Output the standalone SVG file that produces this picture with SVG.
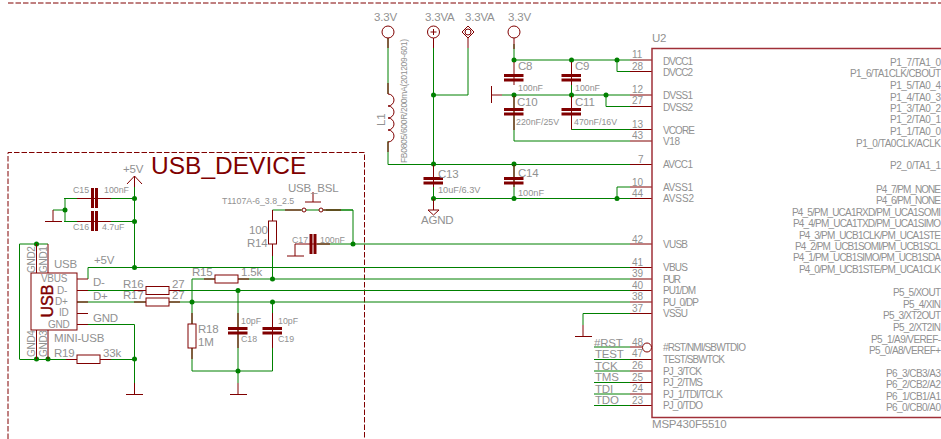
<svg xmlns="http://www.w3.org/2000/svg" width="941" height="439" viewBox="0 0 941 439">
<style>
text{font-family:"Liberation Sans",Arial,sans-serif;fill:#919191}
.s8{font-size:8.5px}.s9{font-size:8.800px}.s10{font-size:9.200px}.s12{font-size:11.500px;letter-spacing:-.2px}
.n{font-size:10px}
.p{font-size:10px;letter-spacing:-.3px}
.q{font-size:10px}
.r{text-anchor:end}
.w{fill:none;stroke:#008000;stroke-width:1}
.e{fill:none;stroke:#800000;stroke-width:1}
.b{fill:#fff;stroke:#800000;stroke-width:1}
.pl{fill:#800000}
.j{fill:#008000}
.fr{fill:none;stroke:#800000;stroke-width:1;stroke-dasharray:5.500 2}
</style>
<defs>
<g id="ch"><rect x="-10" y="-4" width="19.500" height="3" class="pl"/><rect x="-10" y=".5" width="19.500" height="3" class="pl"/></g>
<g id="cv"><rect x="-3.500" y="-10" width="3" height="20" class="pl"/><rect x=".5" y="-10" width="3" height="20" class="pl"/></g>
</defs>
<g id="frame">
<path class="fr" d="M8 439V152.500H364.500V439"/>
<path class="fr" d="M8 3H941"/>
<text x="151" y="174" style="font-size:24.500px;fill:#800000">USB_DEVICE</text>
</g>
<g id="connectors">
<path class="w" d="M134.500 187V267.500M64 198.500H134.500M64 221.500H134.500M65 198.500V221.500M53 210H65"/>
<path class="w" d="M88 267.500H630M88 267.500V279M77 290.500H630M77 302H630M192 279H630M192 279V324M192 348V371H272.500V302M238 290.500V371M238 371V383M77 324.500H134.500V383M20 359.500H134.500M19.500 244H48M19.500 244V359.500"/>
<path class="w" d="M272.500 256V279M285 210H353V244M272.500 210H285M326 210H353M353 244H630M317 244H353"/>
<path class="w" d="M388 38V94M388 141V164.500H630M433.500 38V198.500H630M468 48V95H433.500M514 44V60H630M617 60V71.500H630M514 95V141H630M571.500 60V129.500H630M502 95H630M606 95V106.500H630M514 164.500V198.500M617 187H630M617 187V198.500"/>
<path class="w" d="M583 313.500H630M583 313.500V325M594 347H630M594 359.500H630M594 371H630M594 382.500H630M594 394H630M594 405.500H630"/>
<g class="j">
<circle cx="134.500" cy="198.500" r="2.500"/><circle cx="134.500" cy="221.500" r="2.500"/><circle cx="65" cy="210" r="2.500"/><circle cx="134.500" cy="267.500" r="2.500"/>
<circle cx="36.500" cy="244" r="2.500"/><circle cx="36.500" cy="359" r="2.500"/><circle cx="48" cy="359" r="2.500"/><circle cx="134.500" cy="359" r="2.500"/>
<circle cx="272.500" cy="279" r="2.500"/><circle cx="238" cy="290.500" r="2.500"/><circle cx="192" cy="302" r="2.500"/><circle cx="272.500" cy="302" r="2.500"/><circle cx="238" cy="371" r="2.500"/><circle cx="353" cy="244" r="2.500"/>
<circle cx="433.500" cy="95" r="2.500"/><circle cx="433.500" cy="164" r="2.500"/><circle cx="514" cy="164" r="2.500"/><circle cx="433.500" cy="198.500" r="2.500"/><circle cx="514" cy="198.500" r="2.500"/><circle cx="617" cy="198.500" r="2.500"/>
<circle cx="514" cy="60" r="2.500"/><circle cx="571.500" cy="60" r="2.500"/><circle cx="617" cy="60" r="2.500"/><circle cx="514" cy="95" r="2.500"/><circle cx="571.500" cy="95" r="2.500"/><circle cx="606" cy="95" r="2.500"/>
</g>
</g>
<g id="P5V">
<path class="e" d="M127 184L134.500 176L142 184M134.500 176V187"/><text x="123" y="173" class="s12">+5V</text>
</g>
<g id="GND_C15"><path class="e" d="M53 210V221.500M45 221.500H62"/></g>
<g id="C15"><path class="e" d="M77 198.500H111"/><use href="#cv" x="94.500" y="198"/><text x="73" y="193" class="s9">C15</text><text x="104" y="193" class="s9">100nF</text></g>
<g id="C16"><path class="e" d="M77 221.500H111"/><use href="#cv" x="94.500" y="221"/><text x="73" y="230" class="s9">C16</text><text x="102" y="230" class="s9">4.7uF</text></g>
<g id="USB">
<path class="e" d="M36.500 244V273M48 244V273M36.500 330V359M48 330V359M77 279H88M77 290.500H88M77 302H88M77 313.500H88M77 324.500H88"/>
<rect x="31" y="273" width="46" height="57" class="b"/>
<text transform="translate(52.500 317.500) rotate(-90)" style="font-size:17px;fill:#800000;stroke:#800000;stroke-width:.4" textLength="33" lengthAdjust="spacingAndGlyphs">USB</text>
<text x="41" y="282" class="p">VBUS</text><text x="57" y="294" class="p">D-</text><text x="55" y="305" class="p">D+</text><text x="59" y="316" class="p">ID</text><text x="48" y="328" class="p">GND</text>
<text transform="translate(35 273) rotate(-90)" class="p">GND2</text><text transform="translate(46.500 273) rotate(-90)" class="p">GND1</text><text transform="translate(35 357) rotate(-90)" class="p">GND4</text><text transform="translate(46.500 357) rotate(-90)" class="p">GND3</text>
<text x="54" y="268" class="s12">USB</text><text x="94" y="264" class="s12">+5V</text><text x="93" y="286" class="s12">D-</text><text x="93" y="300" class="s12">D+</text><text x="93" y="322" class="s12">GND</text><text x="54" y="342" class="s12">MINI-USB</text>
</g>
<g id="R19"><path class="e" d="M66 359.500H111"/><rect x="77" y="355" width="23" height="8.500" class="b"/><text x="54" y="357" class="s12">R19</text><text x="103" y="357" class="s12">33k</text></g>
<g id="GND_USB"><path class="e" d="M134.500 383V394M126 394.500H143"/></g>
<g id="R16"><path class="e" d="M134 290.500H180"/><rect x="146" y="286.500" width="23" height="8" class="b"/><text x="123" y="288" class="s12">R16</text><text x="172" y="288" class="s12">27</text></g>
<g id="R17"><path class="e" d="M134 302H180"/><rect x="146" y="298" width="23" height="8" class="b"/><text x="123" y="299" class="s12">R17</text><text x="172" y="299" class="s12">27</text></g>
<g id="R15"><path class="e" d="M204 279H249"/><rect x="215" y="275" width="23" height="8" class="b"/><text x="192" y="276" class="s12">R15</text><text x="241" y="276" class="s12">1.5k</text></g>
<g id="R18"><path class="e" d="M192 313V359"/><rect x="188" y="324" width="8" height="24" class="b"/><text x="198" y="333" class="s12">R18</text><text x="198" y="346" class="s12">1M</text></g>
<g id="C18"><path class="e" d="M238 313V348"/><use href="#ch" x="238" y="331"/><text x="241" y="324" class="s9">10pF</text><text x="241" y="342" class="s9">C18</text></g>
<g id="C19"><path class="e" d="M272.500 313V348"/><use href="#ch" x="272.500" y="331"/><text x="278" y="324" class="s9">10pF</text><text x="278" y="342" class="s9">C19</text></g>
<g id="GND_C18"><path class="e" d="M238 383V394M230 394.500H247"/></g>
<g id="R14"><path class="e" d="M272.500 210V256"/><rect x="268.500" y="221" width="8" height="23" class="b"/><text x="249" y="234" class="s12">100</text><text x="247" y="247" class="s12">R14</text></g>
<g id="C17"><path class="e" d="M295 244H330M295 244V256M287 256H304"/><use href="#cv" x="313" y="244"/><text x="292" y="243" class="s9">C17</text><text x="320" y="243" class="s9">100nF</text></g>
<g id="USB_BSL"><path class="e" d="M285 210H301M323.500 210H341M305 202H321M313 192V202"/><circle cx="304" cy="210" r="2" class="b"/><circle cx="321" cy="210" r="2" class="b"/><text x="288" y="192" class="s12">USB_BSL</text><text x="222" y="204" class="s9">T1107A-6_3.8_2.5</text></g>
<g id="VCC1"><circle cx="388" cy="32" r="6" class="b"/><path class="e" d="M388 38V48"/><text x="374" y="21" class="s12">3.3V</text></g>
<g id="VCCA1"><circle cx="433.500" cy="32" r="6" class="b"/><path class="e" d="M433.500 29V35M430.500 32H436.500M433.500 38V48"/><text x="425" y="21" class="s12">3.3VA</text></g>
<g id="VCCA2"><path class="b" d="M468 26L474 32L468 38L462 32Z"/><circle cx="468" cy="32" r="3" class="b"/><path class="e" d="M468 38V48"/><text x="465" y="21" class="s12">3.3VA</text></g>
<g id="VCC2"><circle cx="514" cy="32" r="6" class="b"/><path class="e" d="M514 38V49"/><text x="508" y="21" class="s12">3.3V</text></g>
<g id="L1"><path class="e" d="M388 83V94a6 6 0 0 1 0 12a6 6 0 0 1 0 12a6 6 0 0 1 0 12a6 6 0 0 1 0 12V152"/><text transform="translate(385 126) rotate(-90)" class="s12">L1</text><text transform="translate(407 163) rotate(-90)" class="s8" textLength="124">FB0805/600R/200mA(201209-601)</text></g>
<g id="C13"><path class="e" d="M433.500 165V187"/><use href="#ch" x="433.500" y="181"/><text x="438" y="178" class="s12">C13</text><text x="438" y="193" class="s10">10uF/6.3V</text></g>
<g id="AGND"><path class="b" d="M428 210H439L433.500 215Z"/><path class="e" d="M433.500 199V210"/><text x="421" y="224" class="s12">AGND</text></g>
<g id="C14"><path class="e" d="M514 165V187"/><use href="#ch" x="514" y="181"/><text x="518" y="177" class="s12">C14</text><text x="518" y="196" class="s10">100nF</text></g>
<g id="C8"><path class="e" d="M514 62V85"/><use href="#ch" x="514" y="78"/><text x="518" y="70" class="s12">C8</text><text x="518" y="91" class="s9">100nF</text></g>
<g id="C9"><path class="e" d="M571.500 62V85"/><use href="#ch" x="571.500" y="78"/><text x="575" y="70" class="s12">C9</text><text x="575" y="91" class="s9">100nF</text></g>
<g id="C10"><path class="e" d="M514 96V130"/><use href="#ch" x="514" y="112"/><text x="517" y="106" class="s12">C10</text><text x="516" y="125" class="s9">220nF/25V</text></g>
<g id="C11"><path class="e" d="M571.500 96V129.500"/><use href="#ch" x="571.500" y="112"/><text x="575" y="106" class="s12">C11</text><text x="574" y="125" class="s9">470nF/16V</text></g>
<g id="GND_C10"><path class="e" d="M492 95H502M491.500 86V103"/></g>
<g id="GND_U2"><path class="e" d="M583 325V336M575 336.500H592"/></g>
<g id="U2">
<path class="e" d="M630 60H652M630 71.500H652M630 95H652M630 106.500H652M630 129.500H652M630 141H652M630 164.500H652M630 187H652M630 198.500H652M630 244H652M630 267.500H652M630 279H652M630 290.500H652M630 302H652M630 313.500H652M630 347H642M630 359.500H652M630 371H652M630 382.500H652M630 394H652M630 405.500H652"/>
<path d="M941 48.500H652V417.500H941" fill="none" stroke="#a03038" stroke-width="1.500"/>
<circle cx="647" cy="347.500" r="4.500" class="b"/>
<text x="652" y="42" class="s12">U2</text><text x="652" y="428" class="s12">MSP430F5510</text>
<g class="n">
<text x="632" y="58">11</text><text x="632" y="70">28</text><text x="632" y="93">12</text><text x="632" y="104">27</text><text x="632" y="128">13</text><text x="632" y="139">43</text><text x="638" y="163">7</text><text x="632" y="186">10</text><text x="632" y="197">44</text><text x="632" y="243">42</text><text x="632" y="266">41</text><text x="632" y="277">39</text><text x="632" y="289">40</text><text x="632" y="300">38</text><text x="632" y="312">37</text><text x="632" y="346">48</text><text x="632" y="357">47</text><text x="632" y="369">26</text><text x="632" y="381">25</text><text x="632" y="392">24</text><text x="632" y="404">23</text>
</g>
<g class="q">
<text x="663" y="64.500" textLength="30">DVCC1</text><text x="663" y="76" textLength="30">DVCC2</text><text x="663" y="98.500" textLength="30">DVSS1</text><text x="663" y="110.500" textLength="30">DVSS2</text><text x="663" y="133.500" textLength="32">VCORE</text><text x="663" y="144.500" textLength="17">V18</text><text x="663" y="167.500" textLength="30">AVCC1</text><text x="663" y="190.500" textLength="30">AVSS1</text><text x="663" y="202" textLength="31">AVSS2</text>
<text x="663" y="248" textLength="25">VUSB</text><text x="663" y="271" textLength="25">VBUS</text><text x="663" y="282.500" textLength="18">PUR</text><text x="663" y="294" textLength="33">PU1/DM</text><text x="663" y="305.500" textLength="36">PU_0/DP</text><text x="663" y="317" textLength="25">VSSU</text><text x="663" y="351" textLength="83">#RST/NMI/SBWTDIO</text><text x="663" y="363" textLength="62">TEST/SBWTCK</text><text x="663" y="374.500" textLength="39">PJ_3/TCK</text><text x="663" y="386" textLength="40">PJ_2/TMS</text><text x="663" y="397.500" textLength="60">PJ_1/TDI/TCLK</text><text x="663" y="409" textLength="40">PJ_0/TDO</text>
</g>
<g class="q r">
<text x="941" y="66" textLength="51">P1_7/TA1_0</text><text x="941" y="77" textLength="91">P1_6/TA1CLK/CBOUT</text><text x="941" y="89" textLength="51">P1_5/TA0_4</text><text x="941" y="101" textLength="51">P1_4/TA0_3</text><text x="941" y="112" textLength="51">P1_3/TA0_2</text><text x="941" y="123" textLength="51">P1_2/TA0_1</text><text x="941" y="135" textLength="51">P1_1/TA0_0</text><text x="941" y="147" textLength="85">P1_0/TA0CLK/ACLK</text><text x="941" y="169" textLength="51">P2_0/TA1_1</text><text x="941" y="193" textLength="65">P4_7/PM_NONE</text><text x="941" y="204" textLength="65">P4_6/PM_NONE</text><text x="941" y="216" textLength="149">P4_5/PM_UCA1RXD/PM_UCA1SOMI</text><text x="941" y="227" textLength="148">P4_4/PM_UCA1TXD/PM_UCA1SIMO</text><text x="941" y="239" textLength="142">P4_3/PM_UCB1CLK/PM_UCA1STE</text><text x="941" y="250" textLength="146">P4_2/PM_UCB1SOMI/PM_UCB1SCL</text><text x="941" y="261" textLength="148">P4_1/PM_UCB1SIMO/PM_UCB1SDA</text><text x="941" y="273" textLength="142">P4_0/PM_UCB1STE/PM_UCA1CLK</text><text x="941" y="296" textLength="48">P5_5/XOUT</text><text x="941" y="308" textLength="38">P5_4/XIN</text><text x="941" y="319" textLength="58">P5_3/XT2OUT</text><text x="941" y="331" textLength="48">P5_2/XT2IN</text><text x="941" y="343" textLength="70">P5_1/A9/VEREF-</text><text x="941" y="354" textLength="72">P5_0/A8/VEREF+</text><text x="941" y="377" textLength="55">P6_3/CB3/A3</text><text x="941" y="388" textLength="55">P6_2/CB2/A2</text><text x="941" y="400" textLength="55">P6_1/CB1/A1</text><text x="941" y="411" textLength="55">P6_0/CB0/A0</text>
</g>
<g class="s12"><text x="594" y="347">#RST</text><text x="595" y="358">TEST</text><text x="595" y="370">TCK</text><text x="595" y="381">TMS</text><text x="595" y="393">TDI</text><text x="595" y="404">TDO</text></g>
</g>
</svg>
